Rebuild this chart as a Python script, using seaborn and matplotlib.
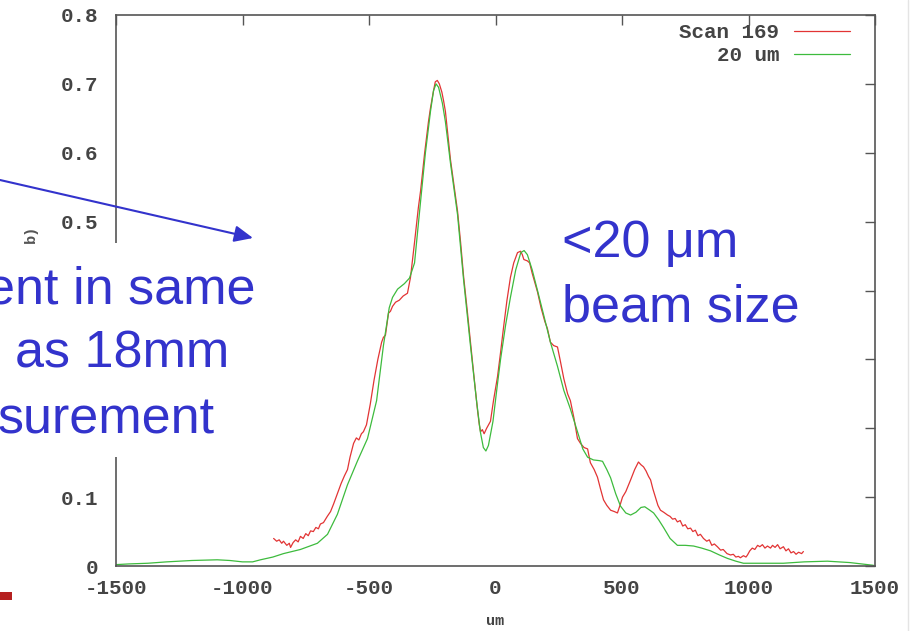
import matplotlib
matplotlib.use("Agg")
import matplotlib.pyplot as plt
from matplotlib.patches import Rectangle, FancyArrowPatch
from matplotlib.lines import Line2D
import pandas as pd
import seaborn as sns

# measured scan (red, noisy) and simulated 20 um profile (green)
scan_x = [-877, -865, -855, -845, -838, -825, -815, -810, -800, -790, -780, -771,
          -760, -750, -740, -731, -720, -710, -700, -692, -680, -665, -652, -640,
          -625, -610, -597, -585, -575, -561, -550, -540, -530, -522, -510, -495,
          -480, -465, -450, -443, -435, -423, -415, -407, -395, -380, -365, -348,
          -336, -320, -305, -296, -280, -265, -257, -245, -238, -230, -222, -212,
          -205, -198, -188, -178, -165, -150, -138, -126, -112, -99, -85, -71,
          -64, -59, -52, -45, -35, -20, -8, 8, 20, 32, 45, 59, 72, 87, 99, 106,
          112, 126, 135, 145, 155, 166, 180, 195, 205, 217, 230, 245, 255, 270,
          285, 296, 310, 324, 336, 350, 364, 375, 390, 403, 415, 427, 440, 455,
          470, 482, 492, 502, 515, 534, 550, 565, 575, 585, 595, 605, 613, 622,
          632, 642, 652, 665, 680, 690, 700, 710, 719, 730, 740, 750, 760, 771,
          780, 790, 800, 810, 822, 835, 845, 855, 865, 877, 890, 900, 915, 929,
          940, 950, 960, 968, 980, 990, 996, 1005, 1015, 1025, 1036, 1045, 1055,
          1065, 1075, 1087, 1095, 1105, 1115, 1125, 1138, 1148, 1158, 1168, 1178,
          1188, 1198, 1210, 1217]
scan_y = [0.040, 0.036, 0.038, 0.033, 0.036, 0.030, 0.033, 0.027, 0.034, 0.038, 0.035, 0.043,
          0.040, 0.047, 0.044, 0.051, 0.050, 0.056, 0.054, 0.061, 0.063, 0.072, 0.079, 0.090,
          0.105, 0.120, 0.131, 0.140, 0.158, 0.178, 0.186, 0.183, 0.192, 0.195, 0.205, 0.235,
          0.270, 0.300, 0.325, 0.332, 0.335, 0.367, 0.370, 0.377, 0.383, 0.386, 0.392, 0.396,
          0.419, 0.470, 0.520, 0.545, 0.600, 0.645, 0.665, 0.690, 0.703, 0.705, 0.700, 0.688,
          0.675, 0.660, 0.625, 0.590, 0.555, 0.515, 0.470, 0.420, 0.372, 0.325, 0.275, 0.226,
          0.205, 0.195, 0.198, 0.192, 0.200, 0.210, 0.240, 0.275, 0.310, 0.347, 0.385, 0.419,
          0.440, 0.455, 0.457, 0.452, 0.445, 0.443, 0.440, 0.425, 0.412, 0.398, 0.375, 0.355,
          0.345, 0.325, 0.320, 0.318, 0.300, 0.272, 0.250, 0.240, 0.215, 0.185, 0.178, 0.172,
          0.170, 0.150, 0.140, 0.129, 0.112, 0.096, 0.088, 0.081, 0.079, 0.077, 0.088, 0.100,
          0.108, 0.125, 0.140, 0.151, 0.147, 0.144, 0.138, 0.130, 0.125, 0.112, 0.100, 0.088,
          0.081, 0.078, 0.074, 0.072, 0.068, 0.069, 0.064, 0.066, 0.058, 0.060, 0.054, 0.055,
          0.050, 0.052, 0.044, 0.046, 0.040, 0.036, 0.038, 0.030, 0.032, 0.028, 0.023, 0.024,
          0.018, 0.016, 0.017, 0.013, 0.014, 0.012, 0.015, 0.013, 0.016, 0.022, 0.026, 0.024,
          0.030, 0.028, 0.031, 0.026, 0.029, 0.026, 0.030, 0.027, 0.031, 0.025, 0.028, 0.022,
          0.025, 0.019, 0.021, 0.017, 0.020, 0.018, 0.021]

sim_x = [-1500, -1450, -1374, -1300, -1200, -1100, -1050, -1000, -960, -929, -880,
         -838, -771, -704, -664, -625, -585, -545, -506, -470, -443, -420, -407,
         -387, -360, -340, -320, -296, -277, -257, -245, -235, -225, -210, -198,
         -178, -150, -126, -99, -75, -60, -48, -38, -28, -10, 8, 20, 40, 59, 80,
         100, 113, 126, 145, 166, 190, 217, 245, 270, 296, 324, 345, 364, 387,
         410, 423, 440, 455, 475, 494, 515, 534, 555, 575, 590, 610, 625, 645,
         664, 690, 719, 750, 783, 815, 850, 885, 917, 950, 980, 1050, 1138, 1220,
         1312, 1400, 1494]
sim_y = [0.002, 0.003, 0.004, 0.006, 0.008, 0.009, 0.008, 0.006, 0.006, 0.009, 0.013,
         0.018, 0.024, 0.033, 0.046, 0.075, 0.118, 0.153, 0.185, 0.240, 0.320, 0.375, 0.390,
         0.402, 0.410, 0.418, 0.440, 0.530, 0.600, 0.660, 0.690, 0.700, 0.695, 0.672, 0.645,
         0.585, 0.510, 0.415, 0.320, 0.240, 0.195, 0.172, 0.167, 0.175, 0.210, 0.265, 0.300,
         0.350, 0.390, 0.430, 0.455, 0.458, 0.452, 0.430, 0.400, 0.365, 0.325, 0.290, 0.255,
         0.228, 0.195, 0.170, 0.158, 0.154, 0.153, 0.152, 0.140, 0.128, 0.105, 0.087, 0.077,
         0.074, 0.078, 0.085, 0.086, 0.081, 0.077, 0.067, 0.056, 0.040, 0.030, 0.030, 0.029,
         0.026, 0.022, 0.016, 0.011, 0.007, 0.004, 0.004, 0.004, 0.006, 0.007, 0.005, 0.001]

x_ticks = [-1500, -1000, -500, 0, 500, 1000, 1500]
x_tick_labels = ["-1500", "-1000", "-500", "0", "500", "1000", "1500"]
y_ticks = [0, 0.1, 0.2, 0.3, 0.4, 0.5, 0.6, 0.7, 0.8]
# 0.2-0.4 are hidden behind the slide's text box in the original
y_tick_labels = ["0", "0.1", "", "", "", "0.5", "0.6", "0.7", "0.8"]

df = pd.concat([
    pd.DataFrame({"um": scan_x, "val": scan_y, "curve": "Scan 169"}),
    pd.DataFrame({"um": sim_x, "val": sim_y, "curve": "20 um"}),
])

sns.set_style("white")
plt.rcParams["font.family"] = ["Liberation Mono", "DejaVu Sans Mono"]

W, H = 915, 631


def px(x, y):
    # reference pixel (from top-left) -> figure fraction
    return x / W, 1 - y / H


fig = plt.figure(figsize=(W / 100, H / 100), dpi=100)
ax = fig.add_axes([116 / W, 65 / H, 759 / W, 551 / H])

sns.lineplot(data=df, x="um", y="val", hue="curve",
             palette={"Scan 169": "#e23434", "20 um": "#3dbb3d"},
             estimator=None, sort=False, linewidth=0.9, ax=ax)

ax.set_xlim(-1500, 1500)
ax.set_ylim(0, 0.8)
ax.set_xticks(x_ticks, labels=x_tick_labels, fontsize=15, fontweight="bold")
ax.set_yticks(y_ticks, labels=y_tick_labels, fontsize=15, fontweight="bold")
ax.tick_params(direction="in", length=7, width=1, top=True, right=True,
               color="#555555", labelcolor="#444444")
ax.tick_params(axis="x", pad=9)
ax.tick_params(axis="y", pad=13)
for sp in ax.spines.values():
    sp.set_color("#555555")
    sp.set_linewidth(1.2)
ax.set_xlabel("")
ax.set_ylabel("")

handles, labels = ax.get_legend_handles_labels()
ax.legend(handles, labels, loc="upper right", bbox_to_anchor=(0.967, 0.985),
          markerfirst=False, frameon=False, prop={"size": 15, "weight": "bold"},
          handlelength=2.7, handletextpad=0.7, labelspacing=0.2,
          borderaxespad=0, borderpad=0, labelcolor="#444444")

# x label and the clipped y label of the gnuplot image
fig.text(*px(495, 621), "um", fontsize=11, fontweight="bold", color="#444444",
         ha="center", va="center")
fig.text(*px(31, 234), "b)", fontsize=11, fontweight="bold", color="#555555",
         rotation=90, ha="center", va="center")

# white slide box covering part of the axis
fig.add_artist(Rectangle(px(0, 457), 262 / W, 214 / H, transform=fig.transFigure,
                         facecolor="white", edgecolor="none", zorder=2))

blue = "#3333cc"
sans = ["Liberation Sans", "DejaVu Sans"]
fig.text(*px(256, 303), "ent in same", fontsize=37.5, color=blue, family=sans,
         ha="right", va="baseline", zorder=3)
fig.text(*px(229, 367), "as 18mm", fontsize=37.5, color=blue, family=sans,
         ha="right", va="baseline", zorder=3)
fig.text(*px(215, 433), "surement", fontsize=37.5, color=blue, family=sans,
         ha="right", va="baseline", zorder=3)
fig.text(*px(562, 257), "<20 \u03bcm", fontsize=37.5, color=blue, family=sans,
         ha="left", va="baseline", zorder=3)
fig.text(*px(562, 322), "beam size", fontsize=37.5, color=blue, family=sans,
         ha="left", va="baseline", zorder=3)

fig.add_artist(FancyArrowPatch(px(0, 180), px(253, 238), transform=fig.transFigure,
                               arrowstyle="-|>,head_length=0.45,head_width=0.2",
                               mutation_scale=25, color=blue, lw=1.5,
                               shrinkA=0, shrinkB=0, zorder=4))

# slide decorations
fig.add_artist(Rectangle(px(0, 600), 12 / W, 8 / H, transform=fig.transFigure,
                         facecolor="#b52020", edgecolor="none", zorder=3))
fig.add_artist(Line2D([908 / W, 908 / W], [0, 1], transform=fig.transFigure,
                      color="#e4e4e4", lw=1))

fig.savefig("out.png", dpi=100, facecolor="white")
